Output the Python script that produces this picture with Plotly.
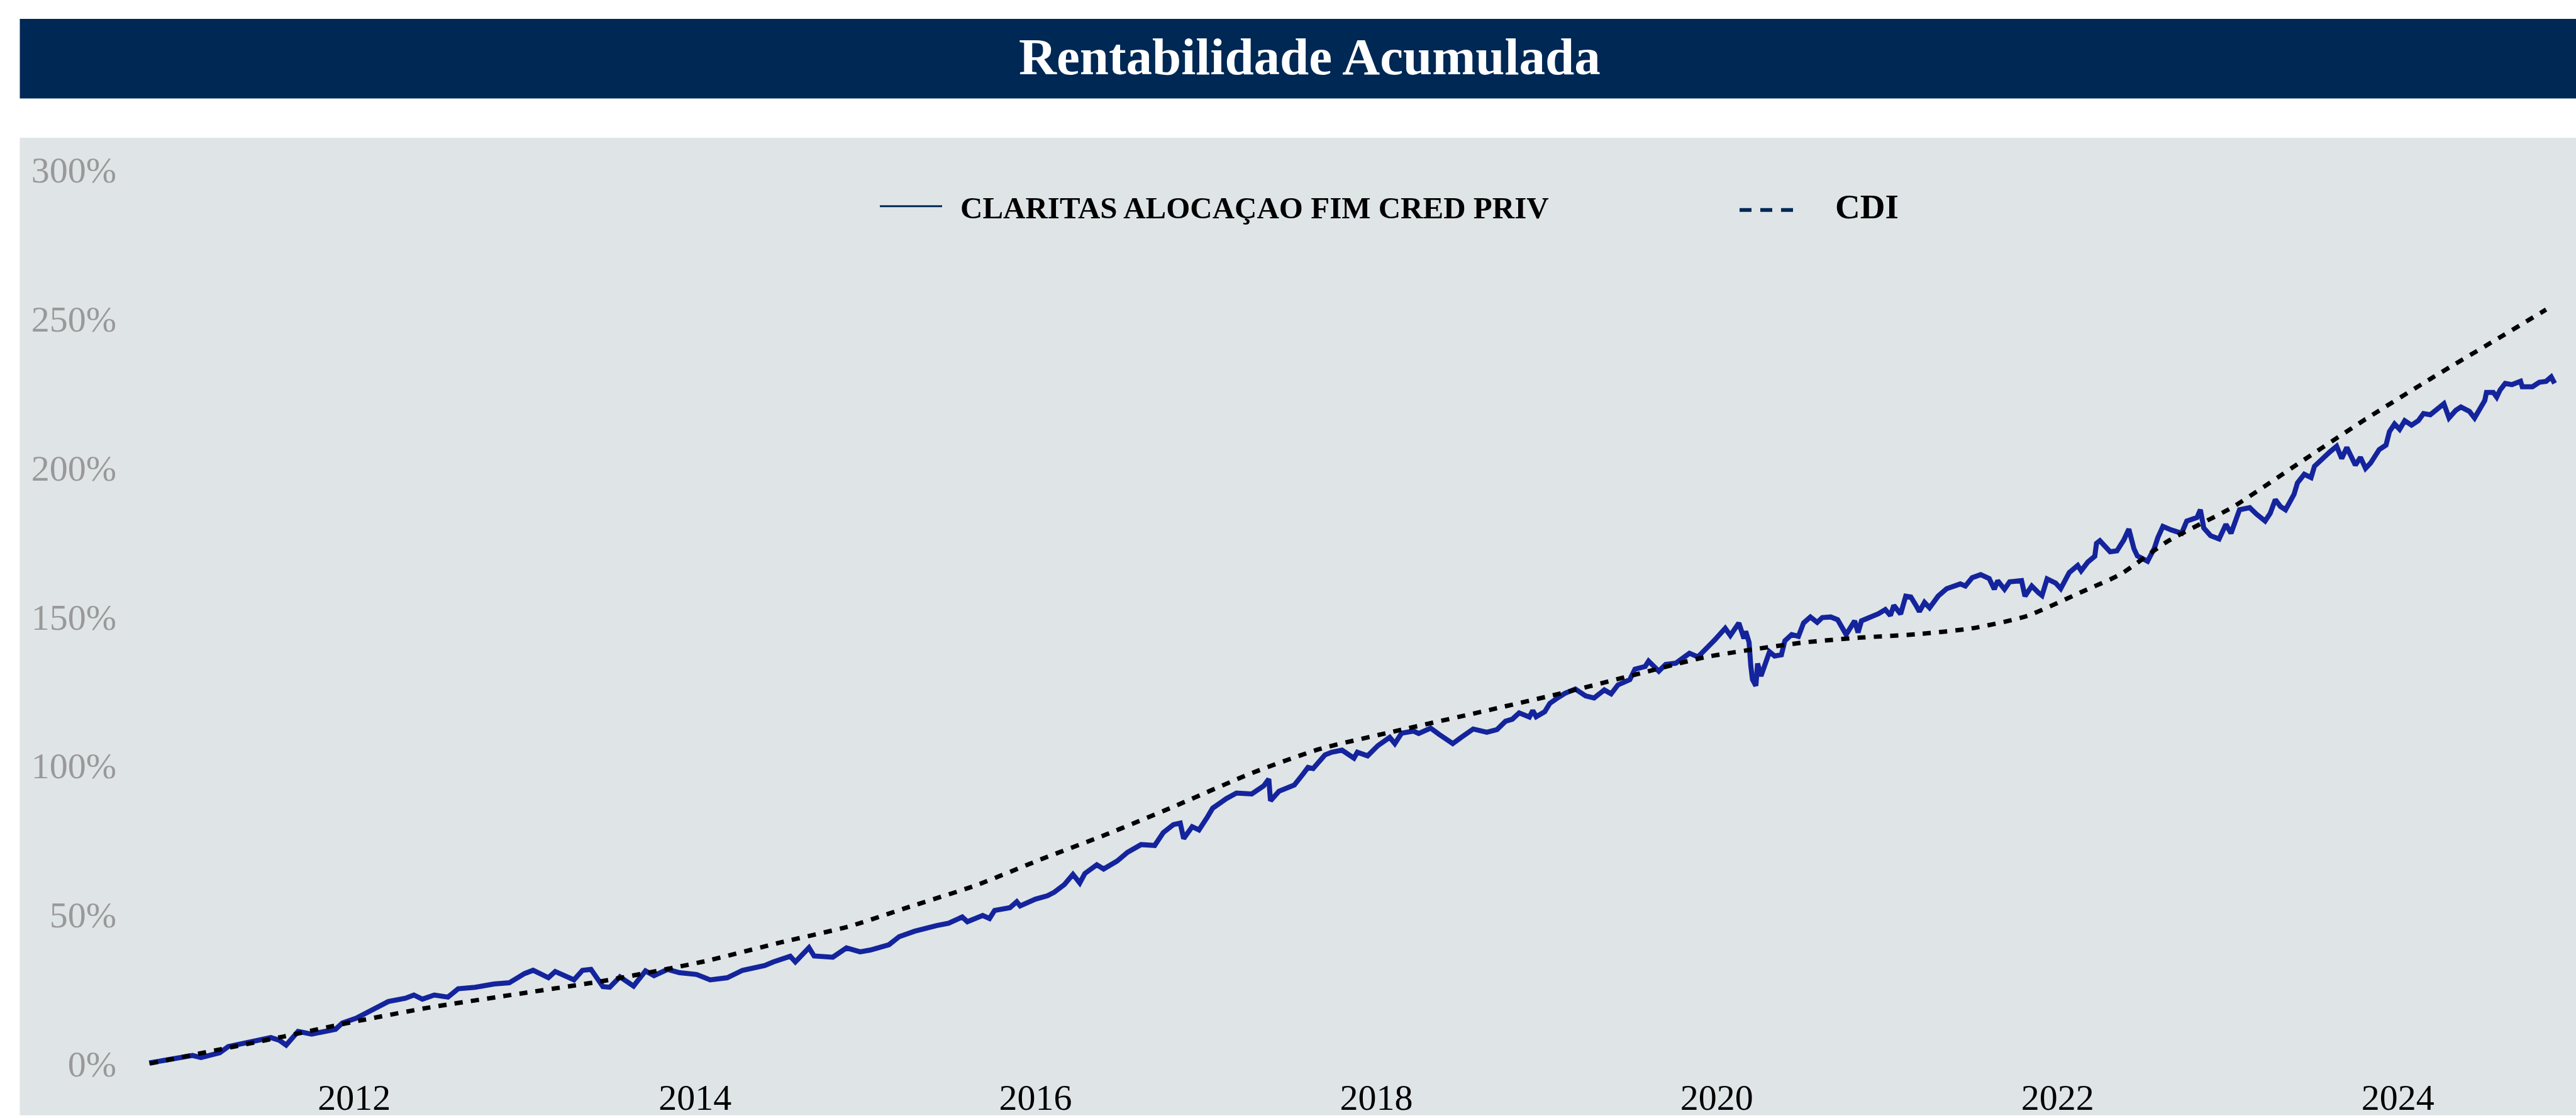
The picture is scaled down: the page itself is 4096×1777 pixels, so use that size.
import pandas as pd
import plotly.graph_objects as go

# ---------------- data ----------------
claritas_t = [
    2010.796, 2011.05, 2011.10, 2011.21, 2011.26, 2011.42, 2011.51, 2011.56, 2011.60, 2011.67,
    2011.75, 2011.89, 2011.93, 2012.01, 2012.09, 2012.15, 2012.20, 2012.30, 2012.35, 2012.40,
    2012.47, 2012.55, 2012.61, 2012.71, 2012.82, 2012.91, 2012.95, 2013.00, 2013.05, 2013.14,
    2013.18, 2013.29, 2013.34, 2013.39, 2013.46, 2013.50, 2013.56, 2013.64, 2013.71, 2013.76,
    2013.84, 2013.91, 2014.01, 2014.09, 2014.19, 2014.28, 2014.41, 2014.46, 2014.56, 2014.59,
    2014.67, 2014.70, 2014.81, 2014.89, 2014.97, 2015.03, 2015.14, 2015.20, 2015.29, 2015.37,
    2015.42, 2015.49, 2015.57, 2015.60, 2015.69, 2015.73, 2015.76, 2015.85, 2015.89, 2015.91,
    2016.00, 2016.07, 2016.11, 2016.17, 2016.22, 2016.26, 2016.29, 2016.36, 2016.40, 2016.48,
    2016.54, 2016.62, 2016.70, 2016.75, 2016.81, 2016.85, 2016.87, 2016.92, 2016.96, 2017.01,
    2017.04, 2017.12, 2017.18, 2017.27, 2017.34, 2017.37, 2017.38, 2017.43, 2017.52, 2017.57,
    2017.60, 2017.63, 2017.70, 2017.74, 2017.80, 2017.87, 2017.89, 2017.95, 2018.01, 2018.08,
    2018.11, 2018.15, 2018.22, 2018.25, 2018.32, 2018.37, 2018.45, 2018.50, 2018.57, 2018.65,
    2018.71, 2018.76, 2018.80, 2018.84, 2018.90, 2018.92, 2018.94, 2018.99, 2019.02, 2019.07,
    2019.11, 2019.17, 2019.23, 2019.28, 2019.34, 2019.38, 2019.42, 2019.49, 2019.52, 2019.58,
    2019.60, 2019.66, 2019.70, 2019.76, 2019.84, 2019.89, 2019.93, 2019.99, 2020.05, 2020.08,
    2020.13, 2020.16, 2020.17, 2020.19, 2020.20, 2020.21, 2020.23, 2020.24, 2020.26, 2020.29,
    2020.31, 2020.34, 2020.38, 2020.40, 2020.44, 2020.48, 2020.51, 2020.55, 2020.59, 2020.62,
    2020.67, 2020.71, 2020.75, 2020.76, 2020.81, 2020.83, 2020.85, 2020.91, 2020.95, 2020.99,
    2021.02, 2021.04, 2021.08, 2021.11, 2021.14, 2021.17, 2021.19, 2021.22, 2021.25, 2021.30,
    2021.35, 2021.43, 2021.46, 2021.50, 2021.55, 2021.60, 2021.63, 2021.65, 2021.69, 2021.72,
    2021.79, 2021.81, 2021.85, 2021.89, 2021.91, 2021.94, 2021.99, 2022.02, 2022.07, 2022.12,
    2022.14, 2022.18, 2022.22, 2022.23, 2022.25, 2022.31, 2022.35, 2022.39, 2022.42, 2022.45,
    2022.47, 2022.53, 2022.57, 2022.59, 2022.62, 2022.67, 2022.73, 2022.76, 2022.82, 2022.84,
    2022.86, 2022.90, 2022.95, 2022.99, 2023.02, 2023.07, 2023.13, 2023.17, 2023.22, 2023.25,
    2023.28, 2023.31, 2023.34, 2023.39, 2023.41, 2023.45, 2023.49, 2023.51, 2023.55, 2023.60,
    2023.64, 2023.67, 2023.70, 2023.73, 2023.75, 2023.78, 2023.81, 2023.84, 2023.87, 2023.89,
    2023.93, 2023.95, 2023.98, 2024.01, 2024.04, 2024.08, 2024.12, 2024.15, 2024.19, 2024.24,
    2024.27, 2024.30, 2024.34, 2024.37, 2024.42, 2024.45, 2024.48, 2024.51, 2024.52, 2024.56,
    2024.58, 2024.60, 2024.63, 2024.67, 2024.72, 2024.73, 2024.79, 2024.83, 2024.87, 2024.90,
    2024.92,
]
claritas_v = [
    0.2, 2.7, 2.0, 3.6, 5.7, 7.6, 8.7, 7.8, 6.2, 10.8,
    9.9, 11.5, 13.6, 15.2, 17.5, 19.1, 20.8, 21.9, 23.0, 21.6,
    23.0, 22.3, 25.1, 25.6, 26.7, 27.1, 28.4, 30.2, 31.3, 28.8,
    30.9, 28.1, 31.3, 31.6, 25.8, 25.6, 29.1, 26.0, 31.1, 29.5,
    31.6, 30.5, 29.9, 28.1, 28.8, 31.3, 32.9, 34.1, 36.0, 34.1,
    38.9, 36.1, 35.7, 38.8, 37.5, 38.1, 39.9, 42.6, 44.4, 45.7,
    46.3, 47.1, 49.2, 47.6, 49.7, 48.7, 51.4, 52.3, 54.3, 52.9,
    55.2, 56.3, 57.5, 60.1, 63.5, 60.6, 63.8, 66.7, 65.3, 68.0,
    70.9, 73.5, 73.2, 77.5, 80.2, 80.7, 75.5, 79.5, 78.4, 82.8,
    85.7, 88.9, 90.8, 90.5, 93.2, 95.5, 88.2, 91.4, 93.5, 97.1,
    99.4, 99.0, 103.6, 104.5, 105.2, 102.5, 104.5, 103.3, 106.7, 109.5,
    107.4, 110.9, 111.6, 110.8, 112.6, 110.5, 107.4, 109.5, 112.3, 111.2,
    112.1, 114.9, 115.6, 117.7, 116.3, 118.5, 116.4, 118.1, 120.9, 122.9,
    124.3, 125.7, 123.4, 122.7, 125.4, 124.1, 127.1, 128.9, 132.4, 133.3,
    135.1, 131.7, 134.0, 134.4, 137.7, 136.5, 138.6, 142.3, 146.1, 143.7,
    147.9, 142.7, 145.1, 141.4, 133.6, 128.9, 126.8, 134.3, 130.1, 134.4,
    138.2, 136.8, 137.2, 141.9, 144.0, 143.4, 147.9, 149.9, 148.1, 149.7,
    149.9, 149.0, 145.1, 144.0, 148.6, 144.7, 148.6, 149.9, 151.0, 152.4,
    150.4, 153.8, 150.9, 156.9, 156.6, 153.8, 151.7, 154.8, 153.0, 156.9,
    159.4, 161.0, 160.3, 163.1, 164.1, 162.8, 159.2, 162.1, 159.2, 161.7,
    162.1, 156.9, 160.3, 158.0, 157.1, 162.7, 161.3, 159.4, 164.8, 167.2,
    165.4, 168.4, 170.3, 174.6, 175.5, 171.8, 172.1, 175.7, 179.4, 172.8,
    170.4, 168.6, 173.0, 176.5, 180.3, 179.1, 178.0, 182.1, 183.3, 185.9,
    179.8, 177.2, 176.1, 181.0, 178.0, 185.9, 186.6, 184.4, 182.1, 184.7,
    189.3, 187.0, 185.9, 191.1, 194.9, 197.8, 196.7, 200.5, 202.8, 205.3,
    207.2, 203.1, 206.8, 203.5, 200.9, 203.5, 199.8, 201.6, 204.2, 206.1,
    207.6, 212.1, 214.7, 212.9, 215.8, 214.3, 215.8, 218.2, 217.8, 220.4,
    221.5, 216.7, 219.3, 220.4, 218.9, 216.7, 219.3, 222.6, 225.3, 225.3,
    223.7, 226.1, 228.3, 227.9, 229.0, 227.2, 227.2, 228.7, 229.0, 230.5,
    228.3,
]

cdi_t = [
    2010.80, 2011.58, 2011.96, 2012.43, 2013.00, 2013.46, 2014.04, 2014.50, 2014.91, 2015.26,
    2015.65, 2016.03, 2016.42, 2016.81, 2017.27, 2017.67, 2018.06, 2018.62, 2019.11, 2019.49,
    2019.93, 2020.20, 2020.52, 2020.85, 2021.17, 2021.50, 2021.82, 2022.15, 2022.37, 2022.65,
    2023.03, 2023.41, 2023.81, 2024.21, 2024.62, 2024.87,
]
cdi_v = [
    0.0, 9.0, 13.6, 18.7, 23.7, 27.7, 34.1, 40.6, 46.1, 52.6,
    59.8, 68.5, 77.0, 86.2, 97.5, 105.6, 110.9, 118.1, 124.6, 130.1,
    136.4, 138.9, 141.4, 143.0, 144.1, 146.1, 150.2, 158.5, 164.2, 175.4,
    186.8, 201.2, 216.3, 230.5, 244.5, 253.1,
]

series_names = ["CLARITAS ALOCAÇAO FIM CRED PRIV", "CDI"]
title_text = "Rentabilidade Acumulada"
y_ticks = [0, 50, 100, 150, 200, 250, 300]
y_tick_labels = ["0%", "50%", "100%", "150%", "200%", "250%", "300%"]

# ---------------- helpers ----------------
def to_dates(ts):
    base = pd.Timestamp("2012-01-01")
    return [base + pd.Timedelta(days=(t - 2012.0) * 365.25) for t in ts]

W, H = 4096, 1777
L, R, T, B = 200, 0, 219, 72
PW, PH = W - L - R, H - T - B

# pixel calibration of data axes
Y0_PX, PER_PCT = 1694.4, 4.7477
X2012_PX, PER_DAY = 563.3, 0.7414

def px(x):
    return (x - L) / PW

def py(y):
    return (H - B - y) / PH

y_range = [(Y0_PX - (H - B)) / PER_PCT, (Y0_PX - T) / PER_PCT]
base = pd.Timestamp("2012-01-01")
x_range = [base + pd.Timedelta(days=(L - X2012_PX) / PER_DAY),
           base + pd.Timedelta(days=(W - R - X2012_PX) / PER_DAY)]

NAVY = "#002855"
BLUE = "#14249c"
GRAY_BG = "#dfe4e7"
SERIF = "Liberation Serif, Times New Roman, serif"

fig = go.Figure()
fig.add_trace(go.Scatter(
    x=to_dates(claritas_t), y=claritas_v, mode="lines", name=series_names[0],
    line=dict(color=BLUE, width=8),
    hoverinfo="skip",
))
fig.add_trace(go.Scatter(
    x=to_dates(cdi_t), y=cdi_v, mode="lines", name=series_names[1],
    line=dict(color="black", width=7, dash="13px,13px", shape="spline", smoothing=0.6),
    hoverinfo="skip",
))

shapes = [
    # gray chart panel
    dict(type="rect", xref="paper", yref="paper", x0=px(31.5), x1=px(W), y0=py(219), y1=py(H),
         fillcolor=GRAY_BG, line=dict(width=0), layer="below"),
    # title bar
    dict(type="rect", xref="paper", yref="paper", x0=px(31.5), x1=px(W), y0=py(29.6), y1=py(156.4),
         fillcolor=NAVY, line=dict(width=0), layer="below"),
    # legend symbols
    dict(type="line", xref="paper", yref="paper", x0=px(1399), x1=px(1498), y0=py(328), y1=py(328),
         line=dict(color=NAVY, width=3)),
    dict(type="line", xref="paper", yref="paper", x0=px(2766), x1=px(2864), y0=py(334), y1=py(334),
         line=dict(color=NAVY, width=6, dash="19px,14px")),
]

annotations = [
    dict(text="<b>" + title_text + "</b>", xref="paper", yref="paper", x=px(2082), y=py(90),
         xanchor="center", yanchor="middle", showarrow=False,
         font=dict(family=SERIF, size=83, color="white")),
    dict(text="<b>" + series_names[0] + "</b>", xref="paper", yref="paper", x=px(1525), y=py(331),
         xanchor="left", yanchor="middle", showarrow=False,
         font=dict(family=SERIF, size=49, color="black")),
    dict(text="<b>" + series_names[1] + "</b>", xref="paper", yref="paper", x=px(2916), y=py(329),
         xanchor="left", yanchor="middle", showarrow=False,
         font=dict(family=SERIF, size=55, color="black")),
]

fig.update_layout(
    width=W, height=H,
    margin=dict(l=L, r=R, t=T, b=B, pad=0),
    paper_bgcolor="white",
    plot_bgcolor="rgba(0,0,0,0)",
    showlegend=False,
    shapes=shapes,
    annotations=annotations,
    hovermode=False,
)
fig.update_xaxes(
    type="date", range=x_range, tick0="2012-01-01", dtick="M24", tickformat="%Y",
    showgrid=False, zeroline=False, showline=False, ticks="",
    tickfont=dict(family=SERIF, size=58, color="black"), ticklabelstandoff=4,
)
fig.update_yaxes(
    range=y_range, tickvals=y_ticks, ticktext=y_tick_labels,
    showgrid=False, zeroline=False, showline=False, ticks="",
    tickfont=dict(family=SERIF, size=58, color="#999999"), ticklabelstandoff=14,
)

fig.write_html("out.html", config={"displayModeBar": False})
